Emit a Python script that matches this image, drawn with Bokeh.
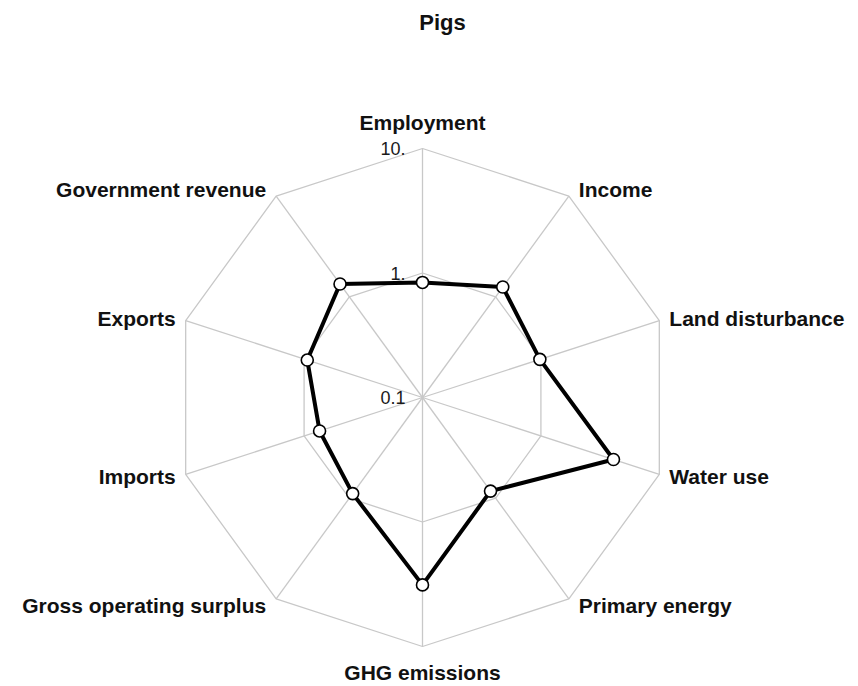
import numpy as np
from bokeh.plotting import figure
from bokeh.models import Range1d, ColumnDataSource
from bokeh.core.properties import value
from bokeh.embed import file_html
from bokeh.resources import INLINE

# ---- data ----
title_text = "Pigs"
categories = ["Employment", "Income", "Land disturbance", "Water use",
              "Primary energy", "GHG emissions", "Gross operating surplus",
              "Imports", "Exports", "Government revenue"]
values = [0.84, 1.25, 0.98, 4.1, 0.85, 3.2, 0.90, 0.74, 0.94, 1.34]
ring_values = [0.1, 1.0, 10.0]
ring_labels = ["0.1", "1.", "10."]

# ---- geometry ----
VMIN, VMAX = 0.1, 10.0
PX = 249.0             # pixels per unit radius
CX, CY = 422.0, 397.0  # centre in page pixels
W, H = 856, 684


def rad(v):
    return (np.log10(v) - np.log10(VMIN)) / (np.log10(VMAX) - np.log10(VMIN))


n = len(categories)
theta = np.pi / 2 - np.arange(n) * 2 * np.pi / n

x0 = (0 - CX) / PX
x1 = (W - CX) / PX
y1 = (CY - 0) / PX
y0 = (CY - H) / PX

p = figure(width=W, height=H, output_backend="svg", toolbar_location=None,
           x_range=Range1d(x0, x1), y_range=Range1d(y0, y1),
           min_border=0, outline_line_color=None)
p.axis.visible = False
p.grid.visible = False
p.background_fill_color = "white"
p.border_fill_color = "white"

grid_col = "#c8c8c8"
# rings
for rv in ring_values:
    r = rad(rv)
    if r <= 0:
        continue
    xs = list(r * np.cos(theta)) + [r * np.cos(theta[0])]
    ys = list(r * np.sin(theta)) + [r * np.sin(theta[0])]
    p.line(xs, ys, line_color=grid_col, line_width=1.3)
# spokes
for t in theta:
    p.line([0, np.cos(t)], [0, np.sin(t)], line_color=grid_col, line_width=1.3)

# ring tick labels
tick_src = ColumnDataSource(dict(x=[0.0] * len(ring_values),
                                 y=[rad(v) for v in ring_values],
                                 t=ring_labels))
p.text(x="x", y="y", text="t", source=tick_src, text_align="right",
       text_baseline="middle", x_offset=-17, y_offset=0,
       text_font=value("Liberation Sans"), text_font_size="18px",
       text_color="#1a1a1a")

# data polygon
rv = np.array([rad(v) for v in values])
dx = rv * np.cos(theta)
dy = rv * np.sin(theta)
p.line(list(dx) + [dx[0]], list(dy) + [dy[0]], line_color="black", line_width=4,
       line_join="round")
p.scatter(dx, dy, size=12, fill_color="white", line_color="black", line_width=1.6)

# category labels
lx, ly, la, xo, yo = [], [], [], [], []
for t in theta:
    c, s = np.cos(t), np.sin(t)
    lx.append(c)
    ly.append(s)
    if abs(c) < 0.1:
        la.append("center")
        xo.append(0)
        yo.append(-26 * s)
    else:
        la.append("left" if c > 0 else "right")
        xo.append(10 if c > 0 else -10)
        yo.append(-8 * s)
lab_src = ColumnDataSource(dict(x=lx, y=ly, t=categories, a=la, xo=xo, yo=yo))
p.text(x="x", y="y", text="t", source=lab_src, text_align="a",
       text_baseline="middle", x_offset="xo", y_offset="yo",
       text_font=value("Liberation Sans"), text_font_style="bold",
       text_font_size="21px", text_color="#111111")

# title
p.text(x=[(442 - CX) / PX], y=[(CY - 22) / PX], text=[title_text],
       text_align="center", text_baseline="middle",
       text_font=value("Liberation Sans"), text_font_style="bold",
       text_font_size="22px", text_color="#111111")

open("out.html", "w").write(file_html(p, INLINE))
